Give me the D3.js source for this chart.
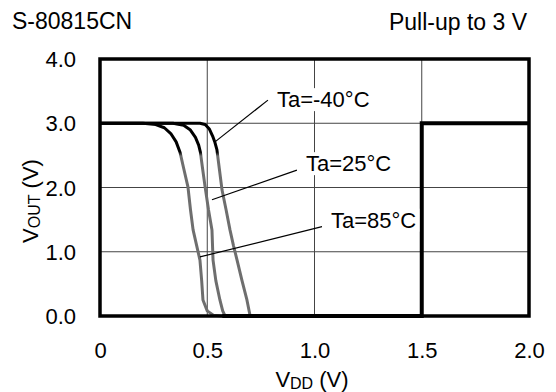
<!DOCTYPE html>
<html>
<head>
<meta charset="utf-8">
<script src="https://cdn.jsdelivr.net/npm/d3@7"></script>
<style>
  body { margin: 0; background: #fff; }
  text { font-family: "Liberation Sans", Arial, sans-serif; fill: #000; }
</style>
</head>
<body>
<div id="chart"></div>
<script>
// tick values and labels
var xTicks = [0, 0.5, 1.0, 1.5, 2.0];
var xTickLabels = ['0', '0.5', '1.0', '1.5', '2.0'];
var yTicks = [0, 1, 2, 3, 4];
var yTickLabels = ['0.0', '1.0', '2.0', '3.0', '4.0'];

// VOUT vs VDD
var curveMinus40 = [[0, 3.0], [0.466, 3.0], [0.49, 2.98], [0.51, 2.91], [0.525, 2.8], [0.536, 2.7],
    [0.545, 2.59], [0.556, 2.3], [0.569, 1.96], [0.588, 1.65], [0.606, 1.34], [0.622, 1.1],
    [0.639, 0.87], [0.662, 0.55], [0.685, 0.25], [0.70, 0]];
var curve25 = [[0, 3.0], [0.34, 3.0], [0.39, 2.97], [0.42, 2.9], [0.445, 2.78], [0.46, 2.66],
    [0.468, 2.55], [0.478, 2.3], [0.49, 2.01], [0.506, 1.65], [0.522, 1.34], [0.527, 0.87],
    [0.54, 0.55], [0.559, 0.25], [0.572, 0.08], [0.583, 0]];
var curve85 = [[0, 3.0], [0.20, 3.0], [0.26, 2.98], [0.30, 2.93], [0.33, 2.84], [0.355, 2.71],
    [0.373, 2.55], [0.39, 2.3], [0.41, 2.01], [0.422, 1.65], [0.434, 1.34], [0.466, 0.87],
    [0.474, 0.55], [0.48, 0.25], [0.50, 0.08], [0.53, 0.01], [0.57, 0]];
// common part after the drop: low until release at 1.5 V, then pulled up to 3 V
var releaseVdd = [0.57, 1.5, 1.5, 2.0];
var releaseVout = [0, 0, 3.0, 3.0];

var seriesNames = ['Ta=-40°C', 'Ta=25°C', 'Ta=85°C'];
var seriesData = [curveMinus40, curve25, curve85];

// where each label's pointer touches its curve, and where the pointer starts
var pointerEnds = [[0.536, 2.71], [0.522, 1.81], [0.466, 0.92]];
var pointerStarts = [[0.783, 3.36], [0.918, 2.27], [1.035, 1.39]];

var W = 556, H = 392;
var plotLeft = 100, plotRight = 529, plotTop = 59, plotBottom = 316;

var svg = d3.select('#chart').append('svg')
    .attr('width', W)
    .attr('height', H);

var x = d3.scaleLinear().domain([0, 2]).range([plotLeft, plotRight]);
var y = d3.scaleLinear().domain([0, 4]).range([plotBottom, plotTop]);

// gradient: curves are black near the top, grey further down
var defs = svg.append('defs');
var grad = defs.append('linearGradient')
    .attr('id', 'curveGrad')
    .attr('gradientUnits', 'userSpaceOnUse')
    .attr('x1', 0).attr('x2', 0)
    .attr('y1', y(3)).attr('y2', y(0));
grad.append('stop').attr('offset', 0).attr('stop-color', '#000');
grad.append('stop').attr('offset', 0.15).attr('stop-color', '#000');
grad.append('stop').attr('offset', 0.17).attr('stop-color', '#6e6e6e');
grad.append('stop').attr('offset', 1).attr('stop-color', '#6e6e6e');

// grid
svg.append('g')
    .selectAll('line')
    .data(xTicks.slice(1, -1))
    .enter().append('line')
    .attr('x1', function (d) { return x(d); })
    .attr('x2', function (d) { return x(d); })
    .attr('y1', y(4)).attr('y2', y(0))
    .style('stroke', '#444').style('stroke-width', 1);

svg.append('g')
    .selectAll('line')
    .data(yTicks.slice(1, -1))
    .enter().append('line')
    .attr('x1', x(0)).attr('x2', x(2))
    .attr('y1', function (d) { return y(d); })
    .attr('y2', function (d) { return y(d); })
    .style('stroke', '#444').style('stroke-width', 1);

// axes tick labels
var yAxis = svg.append('g')
    .attr('transform', 'translate(' + (plotLeft - 24) + ',0)')
    .call(d3.axisLeft(y).tickValues(yTicks).tickSize(0)
        .tickFormat(function (d, i) { return yTickLabels[i]; }));
yAxis.select('.domain').remove();
yAxis.selectAll('text')
    .attr('x', 0).attr('dy', '0.35em')
    .style('font-size', '22px')
    .style('font-family', '"Liberation Sans", Arial, sans-serif');

var xAxis = svg.append('g')
    .attr('transform', 'translate(0,' + plotBottom + ')')
    .call(d3.axisBottom(x).tickValues(xTicks).tickSize(0)
        .tickFormat(function (d, i) { return xTickLabels[i]; }));
xAxis.select('.domain').remove();
xAxis.selectAll('text')
    .attr('y', 0).attr('dy', 42)
    .style('font-size', '22px')
    .style('font-family', '"Liberation Sans", Arial, sans-serif');

// axis titles
var xt = svg.append('text')
    .attr('x', 312).attr('y', 387)
    .attr('text-anchor', 'middle')
    .style('font-size', '22px');
xt.append('tspan').text('V');
xt.append('tspan').attr('dy', 2).style('font-size', '16px').text('DD');
xt.append('tspan').attr('dy', -2).text(' (V)');

var yt = svg.append('text')
    .attr('transform', 'translate(38,201) rotate(-90)')
    .attr('text-anchor', 'middle')
    .style('font-size', '22px');
yt.append('tspan').text('V');
yt.append('tspan').attr('dy', 2).style('font-size', '16px').text('OUT');
yt.append('tspan').attr('dy', -2).text(' (V)');

// titles
svg.append('text')
    .attr('x', 12).attr('y', 29)
    .style('font-size', '23px')
    .text('S-80815CN');
svg.append('text')
    .attr('x', 527).attr('y', 30)
    .attr('text-anchor', 'end')
    .style('font-size', '23px')
    .text('Pull-up to 3 V');

// curves
var line = d3.line()
    .x(function (d) { return x(d[0]); })
    .y(function (d) { return y(d[1]); });

svg.append('g')
    .selectAll('path')
    .data(seriesData)
    .enter().append('path')
    .attr('d', line)
    .style('fill', 'none')
    .style('stroke', 'url(#curveGrad)')
    .style('stroke-width', 3)
    .style('stroke-linejoin', 'round');

var release = releaseVdd.map(function (v, i) { return [v, releaseVout[i]]; });
svg.append('path')
    .datum(release)
    .attr('d', line)
    .style('fill', 'none')
    .style('stroke', '#000')
    .style('stroke-width', 4)
    .style('stroke-linejoin', 'miter');

// frame
svg.append('rect')
    .attr('x', x(0)).attr('y', y(4))
    .attr('width', x(2) - x(0)).attr('height', y(0) - y(4))
    .style('fill', 'none')
    .style('stroke', '#000')
    .style('stroke-width', 3.5);

// labels with pointers
var labelGroups = svg.append('g')
    .selectAll('g')
    .data(seriesNames)
    .enter().append('g');

labelGroups.append('line')
    .attr('x1', function (d, i) { return x(pointerStarts[i][0]); })
    .attr('y1', function (d, i) { return y(pointerStarts[i][1]); })
    .attr('x2', function (d, i) { return x(pointerEnds[i][0]); })
    .attr('y2', function (d, i) { return y(pointerEnds[i][1]); })
    .style('stroke', '#000')
    .style('stroke-width', 1.2);

labelGroups.append('text')
    .attr('x', function (d, i) { return x(pointerStarts[i][0]) + 9; })
    .attr('y', function (d, i) { return y(pointerStarts[i][1]) + (i === 0 ? 7 : 1); })
    .style('font-size', '22px')
    .text(function (d) { return d; });

// white boxes behind the label text, like the original
labelGroups.each(function () {
    var g = d3.select(this);
    var bb = g.select('text').node().getBBox();
    g.insert('rect', 'text')
        .attr('x', bb.x - 3).attr('y', bb.y + 1)
        .attr('width', bb.width + 6).attr('height', bb.height - 2)
        .style('fill', '#fff');
});
</script>
</body>
</html>
